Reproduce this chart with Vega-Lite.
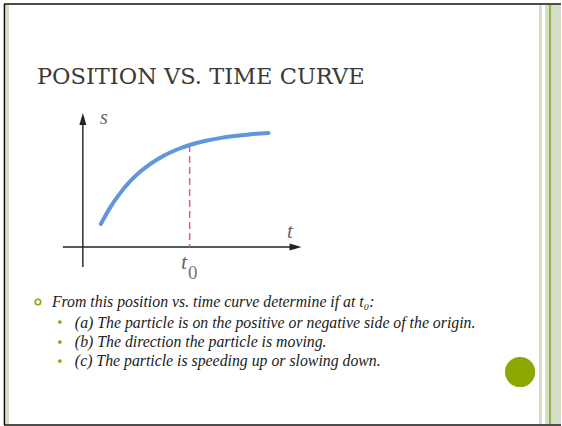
{
  "$schema": "https://vega.github.io/schema/vega-lite/v6.json",
  "width": 562,
  "height": 426,
  "autosize": {"type": "fit", "contains": "padding"},
  "padding": 0,
  "background": "white",
  "config": {"view": {"stroke": null}, "axis": {"disable": true}},
  "datasets": {
    "curve": [
      {"t": 0.9, "s": 1.15},
      {"t": 1.35, "s": 1.945},
      {"t": 1.85, "s": 2.67},
      {"t": 2.35, "s": 3.265},
      {"t": 2.85, "s": 3.745},
      {"t": 3.35, "s": 4.135},
      {"t": 3.85, "s": 4.455},
      {"t": 4.35, "s": 4.715},
      {"t": 4.85, "s": 4.925},
      {"t": 5.35, "s": 5.1},
      {"t": 6.1, "s": 5.3},
      {"t": 6.85, "s": 5.445},
      {"t": 7.6, "s": 5.55},
      {"t": 8.35, "s": 5.63},
      {"t": 9.3, "s": 5.7}
    ],
    "marker": [{"t": 5.35, "s": 5.1}]
  },
  "layer": [
    {
      "data": {"values": [{}]},
      "mark": {"type": "rect", "color": "#d5dec6"},
      "encoding": {
        "x": {"datum": -3.85, "type": "quantitative", "scale": {"domain": [-4.15, 23.95], "nice": false, "zero": false}},
        "x2": {"datum": -3.7},
        "y": {"datum": 12.1, "type": "quantitative", "scale": {"domain": [-8.95, 12.35], "nice": false, "zero": false}},
        "y2": {"datum": -8.85}
      }
    },
    {
      "data": {"values": [{}]},
      "mark": {"type": "rect", "color": "#d5dec6"},
      "encoding": {
        "x": {"datum": 22.85, "type": "quantitative"},
        "x2": {"datum": 22.99},
        "y": {"datum": 12.1, "type": "quantitative"},
        "y2": {"datum": -8.85}
      }
    },
    {
      "data": {"values": [{}]},
      "mark": {"type": "rect", "color": "#d5dec6"},
      "encoding": {
        "x": {"datum": 23.15, "type": "quantitative"},
        "x2": {"datum": 23.95},
        "y": {"datum": 12.1, "type": "quantitative"},
        "y2": {"datum": -8.85}
      }
    },
    {
      "data": {"values": [{}]},
      "mark": {"type": "rect", "color": "#93b24a"},
      "encoding": {
        "x": {"datum": 23.35, "type": "quantitative"},
        "x2": {"datum": 23.45},
        "y": {"datum": 12.1, "type": "quantitative"},
        "y2": {"datum": -8.85}
      }
    },
    {
      "data": {"values": [{}]},
      "mark": {"type": "rule", "color": "#111111", "strokeWidth": 1.6},
      "encoding": {
        "x": {"datum": -3.95, "type": "quantitative"},
        "x2": {"datum": 23.95},
        "y": {"datum": 12.15, "type": "quantitative"}
      }
    },
    {
      "data": {"values": [{}]},
      "mark": {"type": "rule", "color": "#111111", "strokeWidth": 1.6},
      "encoding": {
        "x": {"datum": -3.95, "type": "quantitative"},
        "x2": {"datum": 23.95},
        "y": {"datum": -8.9, "type": "quantitative"}
      }
    },
    {
      "data": {"values": [{}]},
      "mark": {"type": "rule", "color": "#111111", "strokeWidth": 1.6},
      "encoding": {
        "x": {"datum": -3.925, "type": "quantitative"},
        "y": {"datum": 12.15, "type": "quantitative"},
        "y2": {"datum": -8.9}
      }
    },
    {
      "data": {"values": [{"title": "POSITION VS. TIME CURVE"}]},
      "mark": {"type": "text", "font": "DejaVu Serif", "fontSize": 22.5, "color": "#3b3b36", "align": "left", "baseline": "alphabetic"},
      "encoding": {
        "x": {"datum": -2.3, "type": "quantitative"},
        "y": {"datum": 8.15, "type": "quantitative"},
        "text": {"field": "title"}
      }
    },
    {
      "data": {"values": [{}]},
      "mark": {"type": "rule", "color": "#222222", "strokeWidth": 1.4},
      "encoding": {
        "x": {"datum": 0, "type": "quantitative"},
        "y": {"datum": -1.0, "type": "quantitative"},
        "y2": {"datum": 6.2}
      }
    },
    {
      "data": {"values": [{}]},
      "mark": {"type": "rule", "color": "#222222", "strokeWidth": 1.4},
      "encoding": {
        "x": {"datum": -1.0, "type": "quantitative"},
        "x2": {"datum": 10.5},
        "y": {"datum": 0, "type": "quantitative"}
      }
    },
    {
      "data": {"values": [{}]},
      "mark": {"type": "point", "shape": "M0,-1L0.5,0.7L-0.5,0.7Z", "filled": true, "color": "#222222", "opacity": 1, "size": 196},
      "encoding": {
        "x": {"datum": 0, "type": "quantitative"},
        "y": {"datum": 6.35, "type": "quantitative"}
      }
    },
    {
      "data": {"values": [{}]},
      "mark": {"type": "point", "shape": "M1,0L-0.7,0.5L-0.7,-0.5Z", "filled": true, "color": "#222222", "opacity": 1, "size": 196},
      "encoding": {
        "x": {"datum": 10.6, "type": "quantitative"},
        "y": {"datum": 0, "type": "quantitative"}
      }
    },
    {
      "data": {"name": "marker"},
      "mark": {"type": "rule", "color": "#e5606e", "strokeWidth": 1.5, "strokeDash": [7, 4]},
      "encoding": {
        "x": {"field": "t", "type": "quantitative"},
        "y": {"field": "s", "type": "quantitative"},
        "y2": {"datum": 0}
      }
    },
    {
      "data": {"name": "curve"},
      "mark": {"type": "line", "color": "#5f96dc", "strokeWidth": 4, "strokeCap": "round", "interpolate": "monotone"},
      "encoding": {
        "x": {"field": "t", "type": "quantitative"},
        "y": {"field": "s", "type": "quantitative"}
      }
    },
    {
      "data": {"values": [{"label": "s"}]},
      "mark": {"type": "text", "font": "Liberation Serif", "fontStyle": "italic", "fontSize": 20, "color": "#666666", "align": "center", "baseline": "alphabetic"},
      "encoding": {
        "x": {"datum": 1.05, "type": "quantitative"},
        "y": {"datum": 6.15, "type": "quantitative"},
        "text": {"field": "label"}
      }
    },
    {
      "data": {"values": [{"label": "t"}]},
      "mark": {"type": "text", "font": "Liberation Serif", "fontStyle": "italic", "fontSize": 21, "color": "#666666", "align": "center", "baseline": "alphabetic"},
      "encoding": {
        "x": {"datum": 10.375, "type": "quantitative"},
        "y": {"datum": 0.45, "type": "quantitative"},
        "text": {"field": "label"}
      }
    },
    {
      "data": {"values": [{"label": "t"}]},
      "mark": {"type": "text", "font": "Liberation Serif", "fontStyle": "italic", "fontSize": 22, "color": "#666666", "align": "center", "baseline": "alphabetic"},
      "encoding": {
        "x": {"datum": 5.075, "type": "quantitative"},
        "y": {"datum": -1.1, "type": "quantitative"},
        "text": {"field": "label"}
      }
    },
    {
      "data": {"values": [{"label": "0"}]},
      "mark": {"type": "text", "font": "Liberation Serif", "fontSize": 19, "color": "#777777", "align": "center", "baseline": "alphabetic"},
      "encoding": {
        "x": {"datum": 5.5, "type": "quantitative"},
        "y": {"datum": -1.6, "type": "quantitative"},
        "text": {"field": "label"}
      }
    },
    {
      "data": {"values": [{}]},
      "mark": {"type": "point", "shape": "circle", "filled": false, "color": "#8aa800", "strokeWidth": 1.6, "opacity": 1, "size": 30},
      "encoding": {
        "x": {"datum": -2.25, "type": "quantitative"},
        "y": {"datum": -2.75, "type": "quantitative"}
      }
    },
    {
      "data": {"values": [{"line": "From this position vs. time curve determine if at t₀:"}]},
      "mark": {"type": "text", "font": "Liberation Serif", "fontStyle": "italic", "fontSize": 15.8, "color": "#1a1a1a", "align": "left", "baseline": "alphabetic"},
      "encoding": {
        "x": {"datum": -1.55, "type": "quantitative"},
        "y": {"datum": -3.0, "type": "quantitative"},
        "text": {"field": "line"}
      }
    },
    {
      "data": {"values": [{"s": -3.75}, {"s": -4.75}, {"s": -5.7}]},
      "mark": {"type": "point", "shape": "circle", "filled": true, "color": "#8aa800", "opacity": 1, "size": 14},
      "encoding": {
        "x": {"datum": -1.15, "type": "quantitative"},
        "y": {"field": "s", "type": "quantitative"}
      }
    },
    {
      "data": {"values": [{"line": "(a) The particle is on the positive or negative side of the origin."}]},
      "mark": {"type": "text", "font": "Liberation Serif", "fontStyle": "italic", "fontSize": 15.8, "color": "#1a1a1a", "align": "left", "baseline": "alphabetic"},
      "encoding": {
        "x": {"datum": -0.4, "type": "quantitative"},
        "y": {"datum": -4.05, "type": "quantitative"},
        "text": {"field": "line"}
      }
    },
    {
      "data": {"values": [{"line": "(b) The direction the particle is moving."}]},
      "mark": {"type": "text", "font": "Liberation Serif", "fontStyle": "italic", "fontSize": 15.8, "color": "#1a1a1a", "align": "left", "baseline": "alphabetic"},
      "encoding": {
        "x": {"datum": -0.4, "type": "quantitative"},
        "y": {"datum": -5.0, "type": "quantitative"},
        "text": {"field": "line"}
      }
    },
    {
      "data": {"values": [{"line": "(c) The particle is speeding up or slowing down."}]},
      "mark": {"type": "text", "font": "Liberation Serif", "fontStyle": "italic", "fontSize": 15.8, "color": "#1a1a1a", "align": "left", "baseline": "alphabetic"},
      "encoding": {
        "x": {"datum": -0.4, "type": "quantitative"},
        "y": {"datum": -5.95, "type": "quantitative"},
        "text": {"field": "line"}
      }
    },
    {
      "data": {"values": [{}]},
      "mark": {"type": "point", "shape": "circle", "filled": true, "color": "#8aa800", "opacity": 1, "size": 908},
      "encoding": {
        "x": {"datum": 21.9, "type": "quantitative"},
        "y": {"datum": -6.25, "type": "quantitative"}
      }
    }
  ]
}
